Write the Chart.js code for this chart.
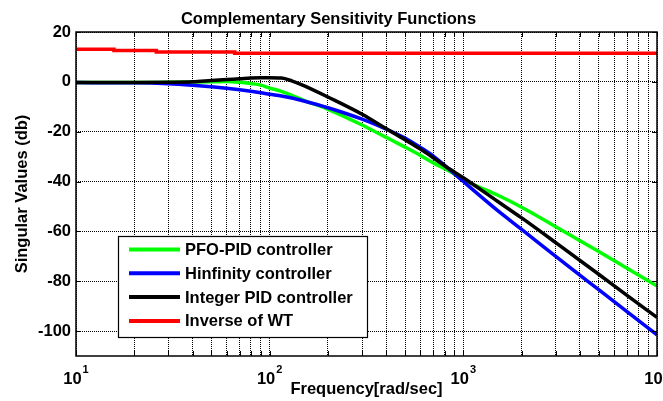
<!DOCTYPE html>
<html>
<head>
<meta charset="utf-8">
<title>Complementary Sensitivity Functions</title>
<script src="https://cdn.jsdelivr.net/npm/chart.js@4.4.1/dist/chart.umd.min.js"></script>
<style>
  body { margin: 0; background: #fff; }
  #wrap { width: 663px; height: 401px; }
</style>
</head>
<body>
<div id="wrap"><canvas id="sensChart" width="663" height="401"></canvas></div>
<script>
const freq = [10, 20, 30, 40, 50, 60, 70, 80, 90, 100, 115, 130, 150, 200, 300, 400, 500, 600, 700, 850, 1000, 1500, 2000, 3000, 5000, 7000, 10000];

const pfoPid = [-0.3, -0.3, -0.2, -0.1, 0.0, 0.1, -0.2, -0.7, -1.3, -2.5, -3.8, -5.4, -7.4, -11, -17.3, -22.3, -26.2, -29.5, -32.5, -35.9, -39.3, -45.4, -50.3, -58.1, -68.1, -74.8, -81.9];
const hinf = [-0.3, -0.4, -0.8, -1.4, -2.0, -2.6, -3.2, -3.8, -4.4, -5.0, -5.7, -6.5, -7.7, -10.4, -15, -19, -22.5, -26.3, -29.8, -35.2, -40, -51.6, -59.2, -70, -83.4, -92.2, -101.5];
const intPid = [-0.3, -0.3, -0.2, 0.0, 0.5, 0.9, 1.2, 1.5, 1.6, 1.6, 1.5, 0.4, -1.5, -6.1, -13, -18.8, -23.2, -27, -30.5, -35, -38.5, -47.9, -54.6, -64.5, -77.2, -85.7, -94.5];

// inverse of WT is a staircase
const wtFreq = [10, 15.7, 26, 66, 10000];
const wtInv = [13.1, 12.6, 12.0, 11.5, 11.5];

const xMajor = [10, 100, 1000, 10000];
const xExp = ["1", "2", "3", "4"];
const xMinorMult = [2, 3, 4, 5, 6, 7, 8, 9];
const yTicks = [-100, -80, -60, -40, -20, 0, 20];

const FONT = "'Liberation Sans', Arial, sans-serif";

function pts(xs, ys) {
  return xs.map((x, i) => ({ x: x, y: ys[i] }));
}

const xTickValues = [];
xMajor.forEach((m, i) => {
  xTickValues.push(m);
  if (i < xMajor.length - 1) xMinorMult.forEach(k => xTickValues.push(m * k));
});

// inward tick marks + frame like matlab
const framePlugin = {
  id: "frame",
  afterDatasetsDraw(chart) {
    const { ctx, chartArea: a, scales } = chart;
    ctx.save();
    ctx.strokeStyle = "#000";
    ctx.lineWidth = 1;
    ctx.beginPath();
    scales.x.ticks.forEach(t => {
      const px = Math.round(scales.x.getPixelForValue(t.value)) + 0.5;
      ctx.moveTo(px, a.bottom); ctx.lineTo(px, a.bottom - 5);
      ctx.moveTo(px, a.top); ctx.lineTo(px, a.top + 5);
    });
    scales.y.ticks.forEach(t => {
      const py = Math.round(scales.y.getPixelForValue(t.value)) + 0.5;
      ctx.moveTo(a.left, py); ctx.lineTo(a.left + 5, py);
      ctx.moveTo(a.right, py); ctx.lineTo(a.right - 5, py);
    });
    ctx.stroke();
    ctx.lineWidth = 1.5;
    ctx.strokeRect(a.left, a.top, a.right - a.left, a.bottom - a.top);
    ctx.restore();
  },
  afterDraw(chart) {
    const { ctx, scales } = chart;
    const x = scales.x;
    const base = chart.chartArea.bottom;
    ctx.save();
    ctx.fillStyle = "#000";
    ctx.textBaseline = "alphabetic";
    ctx.textAlign = "left";
    xMajor.forEach((m, i) => {
      ctx.font = "bold 16.5px " + FONT;
      const w1 = ctx.measureText("10").width;
      ctx.font = "bold 11px " + FONT;
      const w2 = ctx.measureText(xExp[i]).width;
      const px = x.getPixelForValue(m) - (w1 + w2 + 1) / 2;
      ctx.font = "bold 16.5px " + FONT;
      ctx.fillText("10", px, base + 28);
      ctx.font = "bold 11px " + FONT;
      ctx.fillText(xExp[i], px + w1 + 1, base + 16.5);
    });

    // legend box inside the axes
    const lx = 118, ly = 236, lw = 249, lh = 101;
    ctx.fillStyle = "#fff";
    ctx.fillRect(lx, ly, lw, lh);
    ctx.strokeStyle = "#000";
    ctx.lineWidth = 1.2;
    ctx.strokeRect(lx + 0.5, ly + 0.5, lw, lh);
    ctx.font = "bold 16.5px " + FONT;
    ctx.textBaseline = "middle";
    chart.data.datasets.forEach((ds, i) => {
      const ry = ly + 13.5 + i * 23.8;
      ctx.strokeStyle = ds.borderColor;
      ctx.lineWidth = 4;
      ctx.beginPath();
      ctx.moveTo(lx + 11, ry);
      ctx.lineTo(lx + 62, ry);
      ctx.stroke();
      ctx.fillStyle = "#000";
      ctx.fillText(ds.label, lx + 67, ry + 1);
    });
    ctx.restore();
  }
};

const ctx = document.getElementById("sensChart").getContext("2d");
new Chart(ctx, {
  type: "line",
  data: {
    datasets: [
      { label: "PFO-PID controller", data: pts(freq, pfoPid), borderColor: "#00ff00", order: 4, cubicInterpolationMode: "monotone" },
      { label: "Hinfinity controller", data: pts(freq, hinf), borderColor: "#0000ff", order: 3, cubicInterpolationMode: "monotone" },
      { label: "Integer PID controller", data: pts(freq, intPid), borderColor: "#000000", order: 2, cubicInterpolationMode: "monotone" },
      { label: "Inverse of WT", data: pts(wtFreq, wtInv), borderColor: "#ff0000", order: 1, stepped: true }
    ]
  },
  options: {
    responsive: false,
    animation: false,
    layout: { padding: { left: 0, right: 6, top: 0, bottom: 0 } },
    elements: {
      point: { radius: 0 },
      line: { borderWidth: 3.5, fill: false }
    },
    scales: {
      x: {
        type: "logarithmic",
        min: 10,
        max: 10000,
        afterBuildTicks: s => { s.ticks = xTickValues.map(v => ({ value: v })); },
        afterFit: s => { s.height = 45; },
        ticks: { display: false },
        grid: { color: "#000", lineWidth: 1, drawTicks: false },
        border: { display: false, dash: [1, 1] },
        title: {
          display: true,
          text: "Frequency[rad/sec]",
          color: "#000",
          font: { family: FONT, size: 16.5, weight: "bold" },
          padding: { top: 0, bottom: 2 }
        }
      },
      y: {
        min: -110,
        max: 20,
        afterBuildTicks: s => { s.ticks = yTicks.map(v => ({ value: v })); },
        afterFit: s => { s.width = 76; },
        ticks: {
          color: "#000",
          padding: 5,
          font: { family: FONT, size: 16.5, weight: "bold" }
        },
        grid: { color: "#000", lineWidth: 1, drawTicks: false },
        border: { display: false, dash: [1, 1] },
        title: {
          display: true,
          text: "Singular Values (db)",
          color: "#000",
          font: { family: FONT, size: 16.5, weight: "bold" },
          padding: { top: 13, bottom: 0 }
        }
      }
    },
    plugins: {
      legend: { display: false },
      tooltip: { enabled: false },
      title: {
        display: true,
        text: "Complementary Sensitivity Functions",
        color: "#000",
        font: { family: FONT, size: 16.5, weight: "bold" },
        padding: { top: 10, bottom: 2.2 }
      }
    }
  },
  plugins: [framePlugin]
});
</script>
</body>
</html>
